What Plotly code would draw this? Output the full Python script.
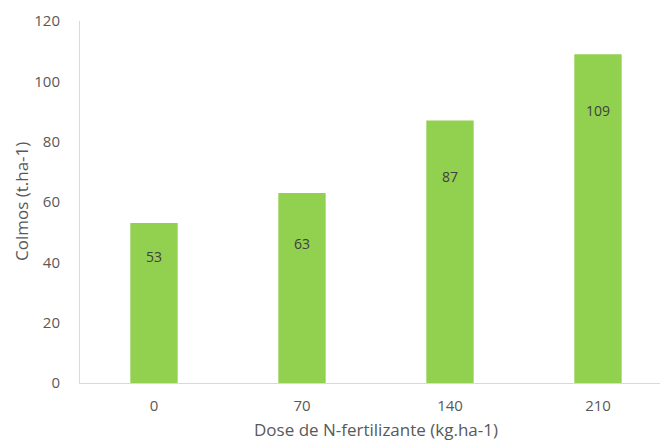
import plotly.graph_objects as go

categories = ["0", "70", "140", "210"]
values = [53, 63, 87, 109]
label_text = ["53", "63", "87", "109"]
label_y = [41.8, 46.1, 68.3, 90.2]
y_ticks = [0, 20, 40, 60, 80, 100, 120]

FONT = "Open Sans"
fig = go.Figure()
fig.add_trace(go.Bar(
    x=list(range(len(categories))), y=values,
    marker=dict(color="#92D050", line=dict(width=0)),
    width=0.32, hoverinfo="skip", showlegend=False,
))
for i, (t, ly) in enumerate(zip(label_text, label_y)):
    fig.add_annotation(x=i, y=ly, text=t, showarrow=False, xref="x", yref="y",
                       font=dict(family=FONT, size=14, color="#404040"))

fig.add_annotation(x=(376 - 80) / 580, y=0, xref="paper", yref="paper",
                   xanchor="center", yanchor="middle", yshift=-46,
                   text="Dose de N-fertilizante (kg.ha-1)", showarrow=False,
                   font=dict(family=FONT, size=17, color="#595959"))
fig.add_annotation(x=0, y=0.5, xref="paper", yref="paper", xshift=-59,
                   xanchor="center", yanchor="middle",
                   text="Colmos (t.ha-1)", textangle=-90, showarrow=False,
                   font=dict(family=FONT, size=17, color="#595959"))

fig.update_layout(
    width=660, height=446,
    margin=dict(l=80, r=0, t=21, b=63),
    paper_bgcolor="white", plot_bgcolor="white",
    xaxis=dict(
        range=[-0.5, -0.5 + 580 / 148],
        tickmode="array", tickvals=list(range(len(categories))), ticktext=categories,
        showgrid=False, zeroline=False, showline=True, linecolor="#D9D9D9", linewidth=1,
        ticks="", tickfont=dict(family=FONT, size=15, color="#595959"),
        ticklabelstandoff=9,
    ),
    yaxis=dict(
        range=[0, 120], tickvals=y_ticks,
        showgrid=False, zeroline=False, showline=True, linecolor="#D9D9D9", linewidth=1,
        ticks="", tickfont=dict(family=FONT, size=15, color="#595959"),
        ticklabelstandoff=16,
    ),
)
fig.write_html("out.html")
